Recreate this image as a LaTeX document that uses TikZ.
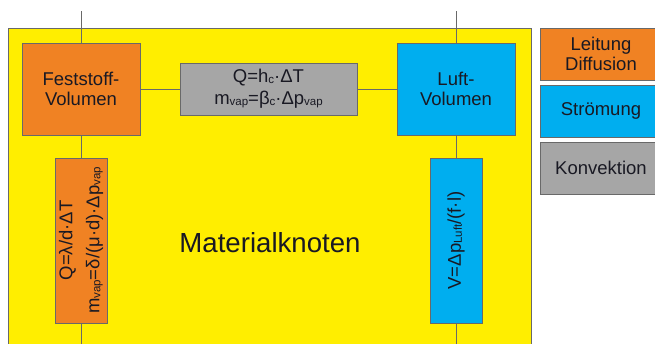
\documentclass[tikz,border=0pt]{standalone}
\usepackage{fontspec}
\setmainfont{Liberation Sans}
\newcommand{\tief}[1]{\raisebox{-0.06em}{\fontsize{11.5}{12}\selectfont #1}}
\begin{document}
\begin{tikzpicture}[x=1pt, y=-1pt,
    box/.style={draw=linegray, line width=0.8pt, inner sep=0pt, align=center,
      text=textdark, font=\fontsize{18.5}{20}\selectfont},
    leit/.style={box, fill=leitorange},
    stroem/.style={box, fill=stroemblue},
    konv/.style={box, fill=konvgray},
    con/.style={draw=linegray, line width=0.8pt}]
  \definecolor{knotyellow}{RGB}{255,238,0}
  \definecolor{leitorange}{RGB}{240,130,35}
  \definecolor{stroemblue}{RGB}{0,174,239}
  \definecolor{konvgray}{RGB}{166,166,166}
  \definecolor{linegray}{RGB}{105,105,105}
  \definecolor{textdark}{RGB}{25,25,35}
  \useasboundingbox (0,0) rectangle (655,343);
  \begin{scope}
    \clip (0,0) rectangle (655,343);
    % Materialknoten
    \fill[knotyellow] (8,28) rectangle (531,350);
    \draw[con] (8,350) -- (8,28) -- (531,28) -- (531,350);
    \node[text=textdark, font=\fontsize{27.6}{30}\selectfont] (knoten) at (270,243) {Materialknoten};
    % Volumen und Widerstaende
    \node[leit, minimum width=118, minimum height=92] (fest) at (81,89) {Feststoff-\\Volumen};
    \node[stroem, minimum width=118, minimum height=92] (luft) at (456,89) {Luft-\\Volumen};
    \node[konv, minimum width=177, minimum height=52, font=\fontsize{18.5}{22}\selectfont] (konvR) at (268.5,89)
      {Q=h\tief{c}·ΔT\\m\tief{vap}=β\tief{c}·Δp\tief{vap}};
    \node[leit, rotate=90, minimum width=165, minimum height=52, font=\fontsize{18.5}{27}\selectfont] (leitR) at (81,240.5)
      {Q=λ/d·ΔT\\m\tief{vap}=δ/(μ·d)·Δp\tief{vap}};
    \node[stroem, rotate=90, minimum width=165, minimum height=52] (stroemR) at (456,240.5)
      {V=Δp\tief{Luft}/(f·l)};
    \coordinate (festOben) at (81,11);
    \coordinate (festUnten) at (81,345);
    \coordinate (luftOben) at (456,11);
    \coordinate (luftUnten) at (456,345);
    \draw[con] (festOben) -- (fest);
    \draw[con] (fest) -- (leitR);
    \draw[con] (leitR) -- (festUnten);
    \draw[con] (luftOben) -- (luft);
    \draw[con] (luft) -- (stroemR);
    \draw[con] (stroemR) -- (luftUnten);
    \draw[con] (fest) -- (konvR);
    \draw[con] (konvR) -- (luft);
    % Legende
    \node[leit, minimum width=122, minimum height=52] (legLeit) at (601,54) {Leitung\\Diffusion};
    \node[stroem, minimum width=122, minimum height=52] (legStroem) at (601,111) {Strömung};
    \node[konv, minimum width=122, minimum height=52] (legKonv) at (601,168) {Konvektion};
  \end{scope}
\end{tikzpicture}
\end{document}
